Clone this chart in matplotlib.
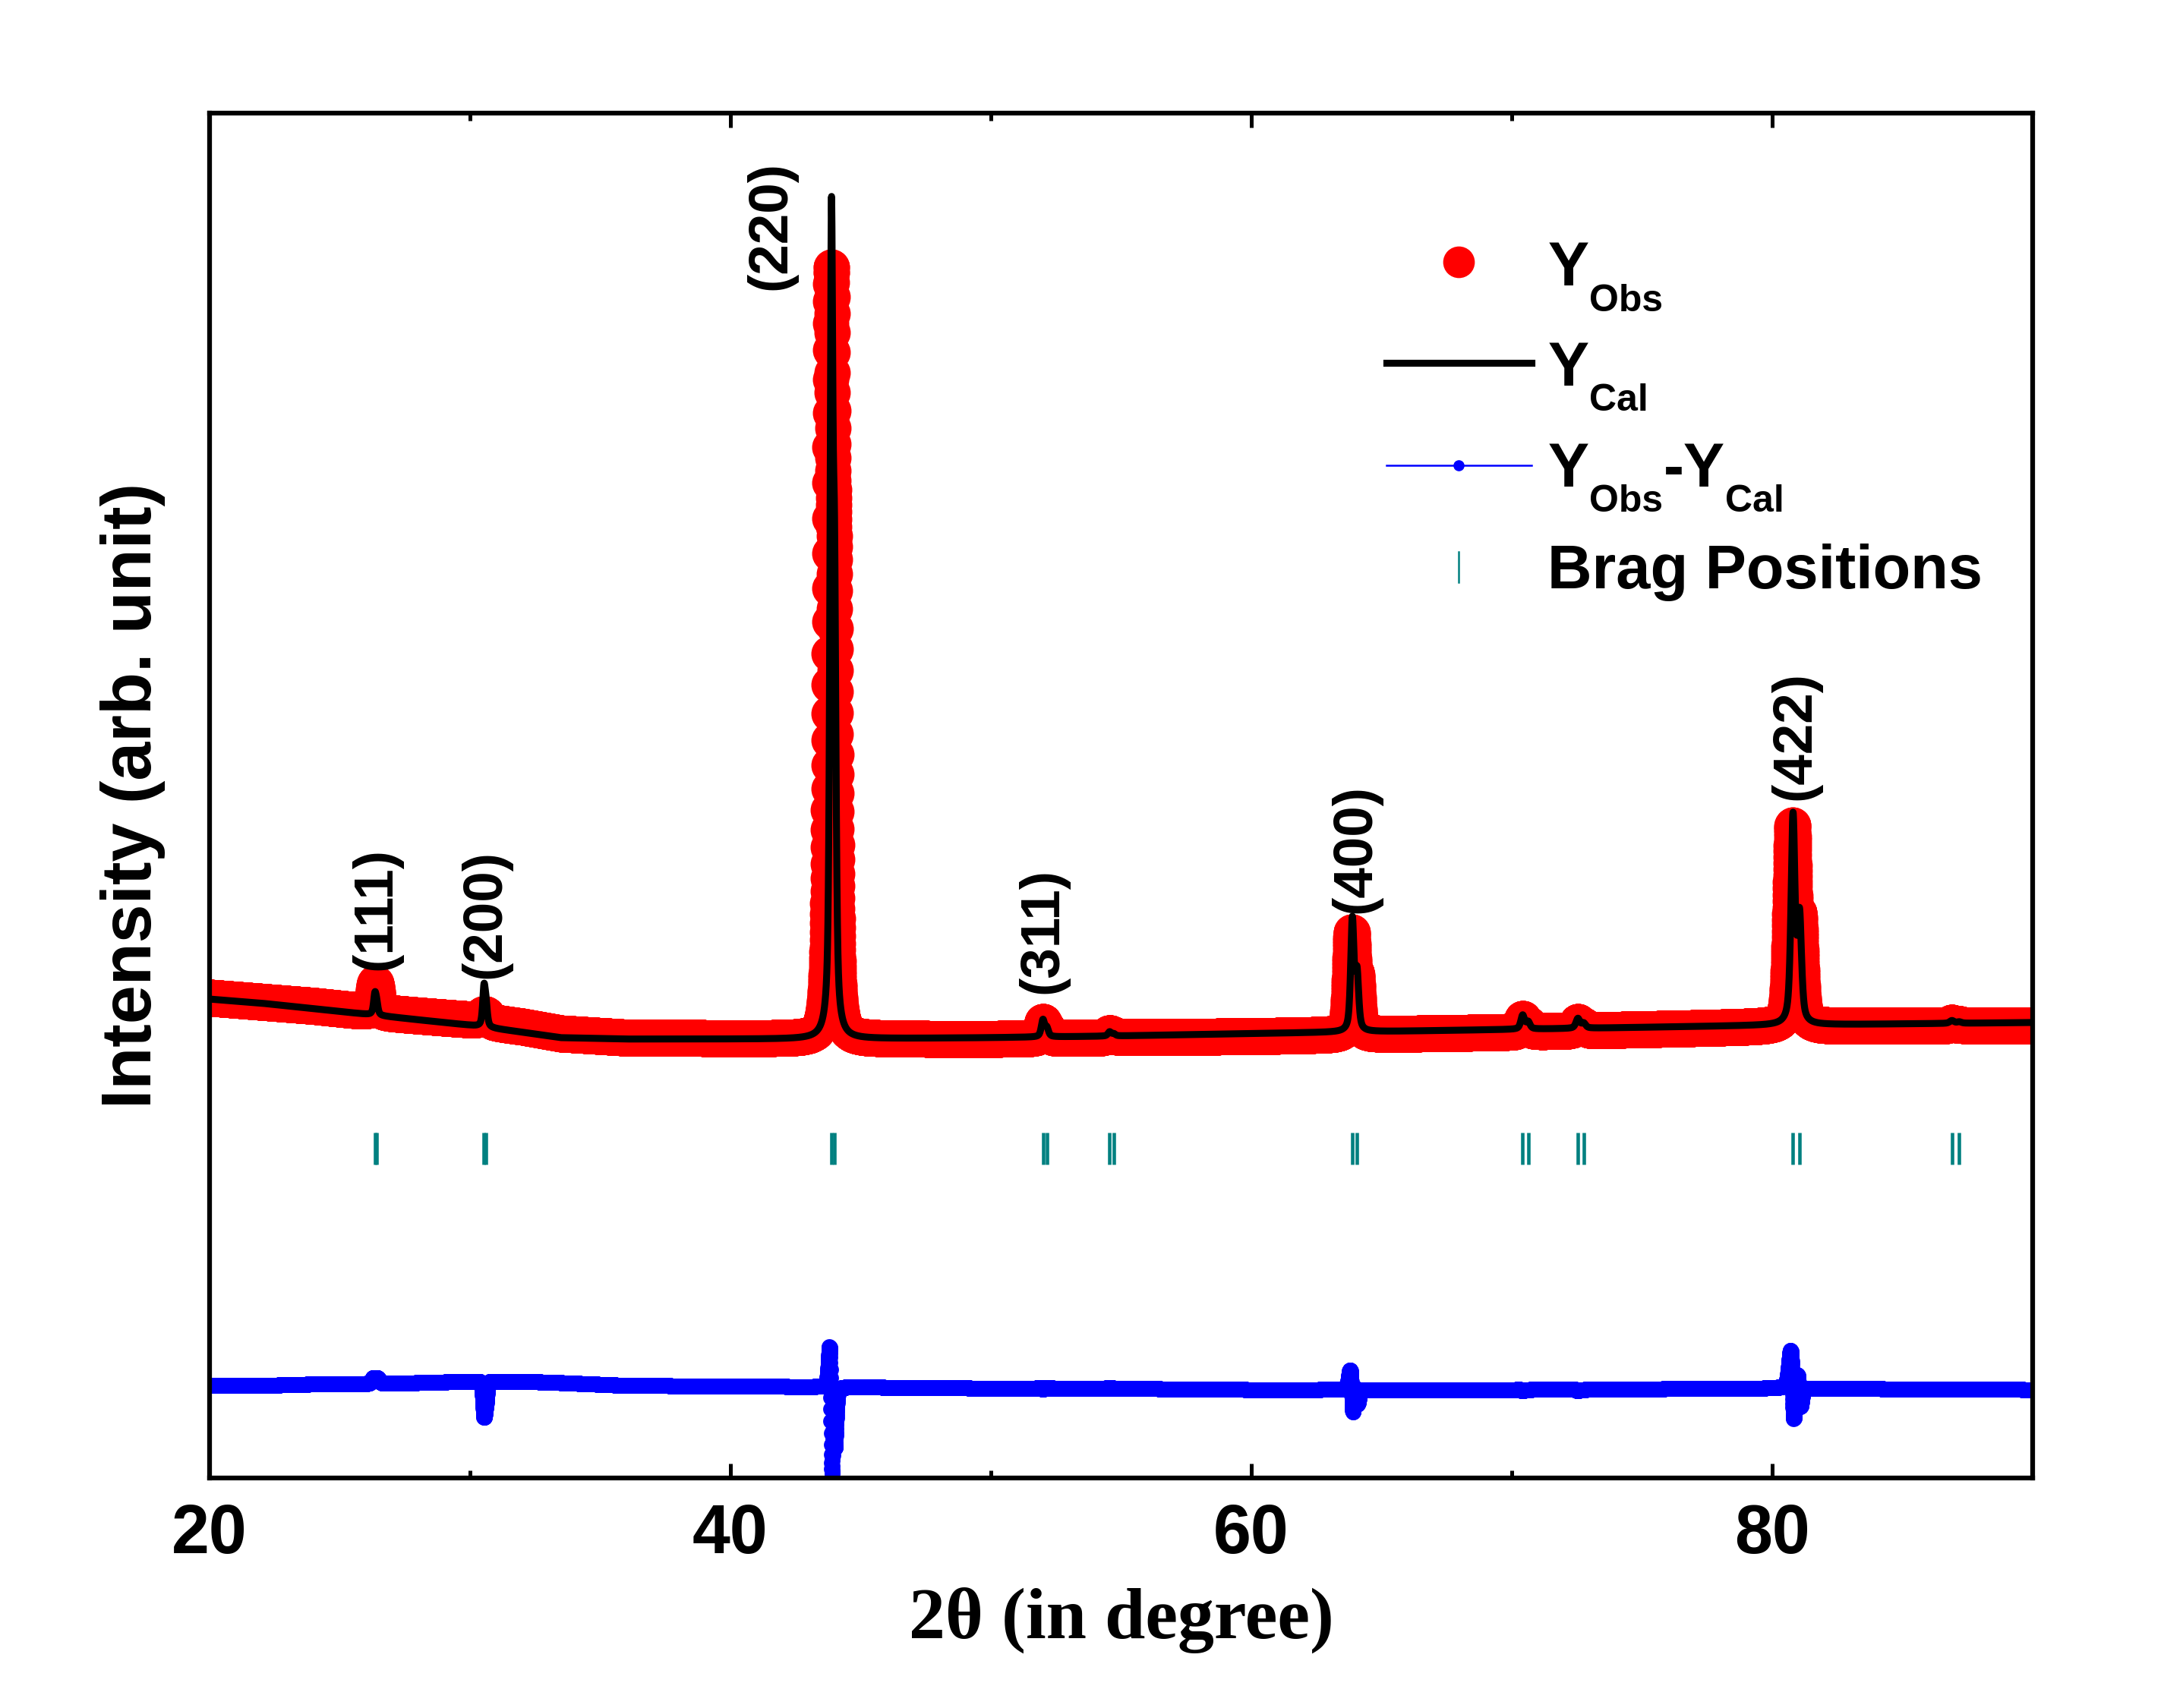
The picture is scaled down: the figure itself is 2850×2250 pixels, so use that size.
import numpy as np
import matplotlib.pyplot as plt
from matplotlib.ticker import MultipleLocator

plt.rcParams['font.family'] = 'Liberation Sans'
plt.rcParams['font.weight'] = 'bold'

# scan grid (2theta, degree)
two_theta = np.arange(20.0, 90.0001, 0.005)

# background points (arb. units)
bg_pos = [20, 22, 24, 26, 28, 30, 32, 33.5, 36, 44, 50, 54, 60, 70, 80, 90]
bg_cal = [347, 344, 340, 336, 332, 328, 323, 319, 318, 318, 319, 320, 322, 325, 328, 330]
bg_obs = [348, 345, 342, 338, 335, 332, 327, 322, 319, 318, 318, 319, 320, 323, 327, 328]

# reflections: Ka1 / Ka2 positions, heights and widths
pos_ka1 = [26.35, 30.54, 43.88, 52.00, 54.56, 63.88, 70.42, 72.54, 80.80, 86.90]
pos_ka2 = [26.42, 30.62, 44.00, 52.15, 54.72, 64.06, 70.63, 72.76, 81.05, 87.18]
h_cal = [14, 27, 560, 12, 3, 80, 10, 7, 149, 2]
w_cal = [0.12, 0.12, 0.13, 0.15, 0.15, 0.15, 0.17, 0.18, 0.18, 0.20]
pos_obs = [26.35, 30.54, 43.872, 52.00, 54.56, 63.855, 70.42, 72.54, 80.775, 86.90]
h_obs = [16, 4, 508, 11, 3, 70, 9, 6, 140, 2]
w_obs = [0.16, 0.30, 0.137, 0.17, 0.17, 0.17, 0.18, 0.19, 0.20, 0.20]

# hkl labels
lab_text = ['(111)', '(200)', '(220)', '(311)', '(400)', '(422)']
lab_x = [26.4, 30.6, 41.55, 52.0, 64.0, 80.9]
lab_y = [368, 362, 861, 351, 409, 491]

diff_offset = 66
tick_lo, tick_hi = 227, 250


def pseudo_voigt(x, x0, h, w, eta=0.6):
    d = (x - x0) / (w / 2.0)
    lor = 1.0 / (1.0 + d ** 2)
    gau = np.exp(-np.log(2) * d ** 2)
    return h * (eta * lor + (1 - eta) * gau)


y_cal = np.interp(two_theta, bg_pos, bg_cal)
y_obs = np.interp(two_theta, bg_pos, bg_obs)
for i in range(len(pos_ka1)):
    sep = pos_ka2[i] - pos_ka1[i]
    y_cal += pseudo_voigt(two_theta, pos_ka1[i], h_cal[i], w_cal[i])
    y_cal += pseudo_voigt(two_theta, pos_ka2[i], 0.5 * h_cal[i], w_cal[i])
    y_obs += pseudo_voigt(two_theta, pos_obs[i], h_obs[i], w_obs[i])
    y_obs += pseudo_voigt(two_theta, pos_obs[i] + sep, 0.5 * h_obs[i], w_obs[i])
y_diff = y_obs - y_cal + diff_offset

fig = plt.figure(figsize=(9.5, 7.5), dpi=300)
ax = fig.add_axes([0.0968, 0.1347, 0.8425, 0.7991])

ax.plot(two_theta, y_obs, 'o', color='#FF0000', ms=11.5, mec='none', zorder=2)
ax.plot(two_theta, y_cal, '-', color='black', lw=2.2, zorder=3)
ax.plot(two_theta, y_diff, '-o', color='#0000FF', ms=5, mec='none', lw=0.8, zorder=2)
ax.vlines(pos_ka1 + pos_ka2, tick_lo, tick_hi, color='#008080', lw=1.1)

for t, xx, yy in zip(lab_text, lab_x, lab_y):
    ax.text(xx, yy, t, rotation=90, ha='center', va='bottom', fontsize=17.5, fontweight='bold')

ax.set_xlim(20, 90)
ax.set_ylim(0, 989)
ax.xaxis.set_major_locator(MultipleLocator(20))
ax.xaxis.set_minor_locator(MultipleLocator(10))
ax.tick_params(axis='x', which='major', direction='in', length=4.6, width=1.2,
               top=True, labelsize=21.5, pad=8)
ax.tick_params(axis='x', which='minor', direction='in', length=2.4, width=1.2, top=True)
ax.tick_params(axis='y', left=False, labelleft=False)
for s in ax.spines.values():
    s.set_linewidth(1.5)

ax.set_xlabel('2θ (in degree)', family='Liberation Serif', fontweight='bold', fontsize=23, labelpad=6)
ax.set_ylabel('Intensity (arb. unit)', fontweight='bold', fontsize=22, labelpad=14)

# legend drawn by hand in axes coordinates
tr = ax.transAxes
fs, fsub, drop = 19.5, 12, -8


def legend_label(y, parts):
    # parts: (text, x offset in points, is_subscript)
    for txt, dx, sub in parts:
        ax.annotate(txt, xy=(0.734, y), xycoords=tr, xytext=(dx, drop if sub else 0),
                    textcoords='offset points', fontsize=fsub if sub else fs,
                    fontweight='bold', va='baseline', ha='left')


ax.plot([0.685], [0.891], 'o', color='#FF0000', ms=10, mec='none', transform=tr)
legend_label(0.8736, [('Y', 0, False), ('Obs', 13.2, True)])
ax.plot([0.6457, 0.7252], [0.817, 0.817], '-', color='black', lw=2.2, transform=tr)
legend_label(0.8003, [('Y', 0, False), ('Cal', 13.2, True)])
ax.plot([0.6457, 0.7252], [0.742, 0.742], '-', color='#0000FF', lw=0.6, transform=tr)
ax.plot([0.685], [0.742], 'o', color='#0000FF', ms=3.5, mec='none', transform=tr)
legend_label(0.7263, [('Y', 0, False), ('Obs', 13.2, True), ('-', 36.5, False),
                      ('Y', 42.7, False), ('Cal', 56.0, True)])
ax.plot([0.685, 0.685], [0.656, 0.6785], '-', color='#008080', lw=0.6, transform=tr)
legend_label(0.6519, [('Brag Positions', 0, False)])

fig.savefig('out.png', dpi=300, facecolor='white')
